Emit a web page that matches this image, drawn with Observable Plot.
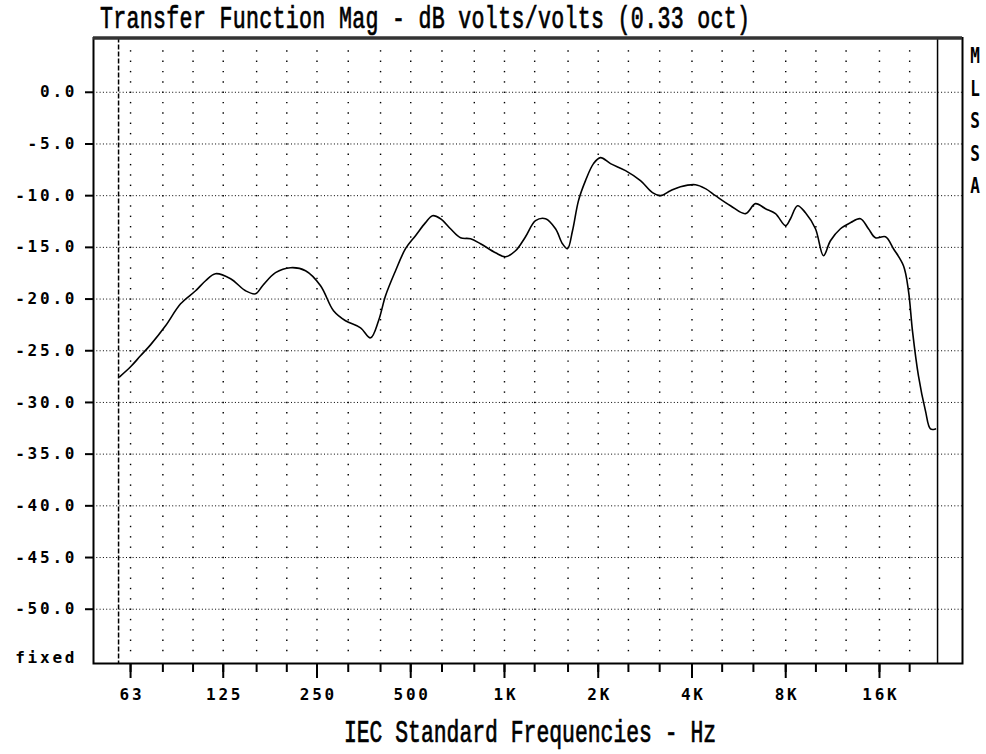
<!DOCTYPE html>
<html><head><meta charset="utf-8">
<script src="https://cdn.jsdelivr.net/npm/d3@7"></script>
<script src="https://cdn.jsdelivr.net/npm/@observablehq/plot@0.6"></script>
<style>
html,body{margin:0;padding:0;background:#fff;}
#chart{width:986px;height:754px;}
</style></head><body><div id="chart"></div>
<script>
// ---- data ----
const freqHz = [58.1,63,67.8,73.0,81.6,91.2,101.9,109.7,118.1,132.0,147.4,158.7,167.2,184.0,205.6,229.7,256.7,282.5,308.8,345.0,371.4,394.1,415.0,446.9,481.1,518.0,557.8,587.4,623.2,671.0,722.5,777.9,837.6,935.9,1007.7,1085.1,1168.3,1257.9,1354.4,1458.4,1535.8,1593.6,1653.7,1728.6,1820.3,1931.3,2033.8,2190,2446.7,2733.1,2986.6,3168.7,3411.8,3673.7,4104.6,4419.5,4758.8,5317.8,5941,6397,6888,7417,7986,8286,8727,9257,9967,10575,11135,11991,12909,13900,14749,15531,16725,17744,19106,19824,20420,21346,22480,23327,24205];
const magDb = [-27.52,-26.55,-25.49,-24.43,-22.59,-20.46,-19.20,-18.23,-17.55,-18.04,-19.20,-19.49,-18.71,-17.45,-16.97,-17.26,-18.71,-21.13,-22.10,-22.78,-23.75,-22.10,-19.68,-17.26,-15.13,-13.87,-12.61,-11.94,-12.23,-13.20,-14.07,-14.17,-14.65,-15.52,-15.91,-15.33,-13.97,-12.42,-12.23,-13.20,-14.65,-15.13,-13.39,-10.48,-8.55,-6.90,-6.32,-6.90,-7.58,-8.55,-9.71,-10.00,-9.52,-9.13,-8.94,-9.32,-10.00,-10.97,-11.74,-10.77,-11.26,-11.74,-12.90,-12.23,-10.97,-11.65,-13.20,-15.81,-14.36,-13.20,-12.61,-12.23,-13.20,-14.07,-13.97,-15.13,-16.78,-19.20,-23.07,-27.43,-30.82,-32.56,-32.56];
const thirdOctaves = [63,80,100,125,160,200,250,315,400,500,630,800,1000,1250,1600,2000,2500,3150,4000,5000,6300,8000,10000,12500,16000,20000];
const labeledFreqs = [63,125,250,500,1000,2000,4000,8000,16000];
const yTicks = [0,-5,-10,-15,-20,-25,-30,-35,-40,-45,-50];
const gridDb = [-54,-53,-52,-51,-50,-49,-48,-47,-46,-45,-44,-43,-42,-41,-40,-39,-38,-37,-36,-35,-34,-33,-32,-31,-30,-29,-28,-27,-26,-25,-24,-23,-22,-21,-20,-19,-18,-17,-16,-15,-14,-13,-12,-11,-10,-9,-8,-7,-6,-5,-4,-3,-2,-1,0,1,2,3,4];
const xDomain = [47.9, 29560];
const yDomain = [-55.25, 5.25];
const dataStartHz = 57.65, dataEndHz = 24580;
const sideLetters = ["M","L","S","S","A"];
const titleText = "Transfer Function Mag - dB volts/volts (0.33 oct)";
const xLabelText = "IEC Standard Frequencies - Hz";
const cornerText = "fixed";

const W = 986, H = 754, mT = 37.5, mB = 91, mL = 93, mR = 24;
const pxPerDb = (H - mT - mB) / (yDomain[1] - yDomain[0]);
const curve = freqHz.map((f, i) => ({f, db: magDb[i]}));
const gridPts = thirdOctaves.flatMap(f => gridDb.map(d => ({f, d})));
const fmtHz = f => f >= 1000 ? (f / 1000) + "K" : String(f);
const LS = 2.8;
const tickFont = {fontFamily: "DejaVu Sans Mono", fontWeight: "bold", fontSize: 16};

const plot = Plot.plot({
  width: W, height: H,
  marginTop: mT, marginBottom: mB, marginLeft: mL, marginRight: mR,
  style: {background: "#fff", color: "#000", overflow: "visible"},
  x: {type: "log", domain: xDomain, label: null, axis: null},
  y: {domain: yDomain, label: null},
  marks: [
    Plot.ruleY(yTicks, {stroke: "#000", strokeWidth: 1, strokeDasharray: "1,2.3"}),
    Plot.dot(gridPts, {x: "f", y: "d", r: 0.8, fill: "#000", stroke: null, symbol: "square"}),
    Plot.ruleX([dataStartHz], {stroke: "#000", strokeWidth: 1.5, strokeDasharray: "5,2"}),
    Plot.ruleX([dataEndHz], {stroke: "#000", strokeWidth: 1.5}),
    Plot.line(curve, {x: "f", y: "db", stroke: "#000", strokeWidth: 1.6, curve: "catmull-rom"}),
    Plot.frame({stroke: "#000", strokeWidth: 2}),
    Plot.ruleY([yDomain[1]], {stroke: "#333", strokeWidth: 3.5}),
    Plot.axisY({ticks: yTicks, tickSize: 8, tickPadding: 11 - LS, strokeWidth: 2,
      tickFormat: d => d.toFixed(1), ...tickFont}),
    // short third-octave ticks
    Plot.ruleX(thirdOctaves, {x: d => d, y1: yDomain[0], y2: yDomain[0] - 9 / pxPerDb, stroke: "#000", strokeWidth: 2}),
    // long labeled ticks
    Plot.ruleX(labeledFreqs, {x: d => d, y1: yDomain[0], y2: yDomain[0] - 15 / pxPerDb, stroke: "#000", strokeWidth: 2}),
    Plot.text(labeledFreqs, {x: d => d, y: () => yDomain[0], dy: 25, dx: LS / 2, lineAnchor: "top",
      text: fmtHz, ...tickFont}),
    Plot.text([cornerText], {frameAnchor: "bottom-left", text: d => d, textAnchor: "end",
      dx: -19 + LS, dy: -1, ...tickFont})
  ]
});

const svg = d3.select(plot);
svg.selectAll('g[aria-label="y-axis tick label"] text, g[aria-label="text"] text')
  .style("letter-spacing", LS + "px");

svg.append("text")
  .attr("transform", "translate(100,28) scale(1,1.42)")
  .attr("text-anchor", "start")
  .attr("font-family", "Liberation Mono").attr("font-size", 21.6)
  .attr("textLength", 650).attr("lengthAdjust", "spacing")
  .attr("fill", "#000").attr("stroke", "#000").attr("stroke-width", 0.5)
  .text(titleText);

svg.append("text")
  .attr("transform", "translate(530,742) scale(1,1.45)")
  .attr("text-anchor", "middle")
  .attr("font-family", "Liberation Mono").attr("font-size", 21.4)
  .attr("fill", "#000").attr("stroke", "#000").attr("stroke-width", 0.5)
  .text(xLabelText);

sideLetters.forEach((ch, i) => {
  svg.append("text")
    .attr("transform", `translate(975,${63 + i * 32.5}) scale(1,1.3)`)
    .attr("text-anchor", "middle")
    .attr("font-family", "DejaVu Sans Mono").attr("font-weight", "bold").attr("font-size", 16)
    .attr("fill", "#000")
    .text(ch);
});

document.getElementById("chart").appendChild(plot);
</script></body></html>
